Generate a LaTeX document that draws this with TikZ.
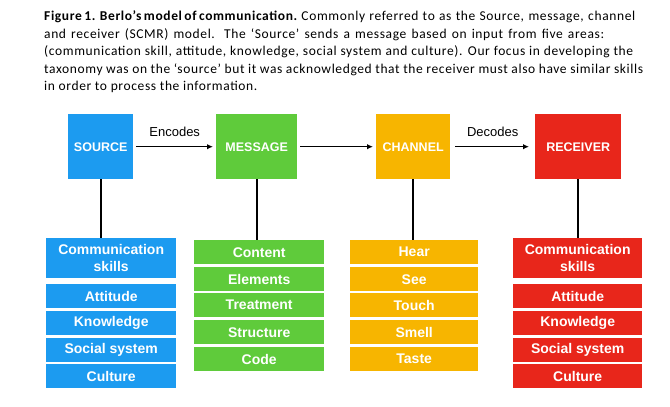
\documentclass[tikz,border=0pt]{standalone}
\usepackage{fontspec}
\setmainfont{Liberation Sans}
\newfontfamily\capfont{Carlito}[LetterSpace=4.6]
\usetikzlibrary{arrows.meta}
\definecolor{cblue}{HTML}{1C9BF0}
\definecolor{cgreen}{HTML}{5FCB3B}
\definecolor{cyellow}{HTML}{F7B500}
\definecolor{cred}{HTML}{E8261B}
\newcommand{\capline}[2]{\makebox[#1pt][s]{#2}}
\tikzset{
  captext/.style={anchor=base west, inner sep=0pt, font=\capfont\fontsize{13.5}{17.5}\selectfont},
  headbox/.style={fill=#1, draw=none, text=white, inner sep=0pt, anchor=north west,
    font=\bfseries\fontsize{12.5}{15}\selectfont},
  itembox/.style={fill=#1, draw=none, text=white, inner sep=0pt, anchor=north west,
    align=center, font=\bfseries\fontsize{14}{17}\selectfont},
  flow/.style={line width=1.3pt, -{Latex[length=6pt,width=5.5pt]}, shorten <=3pt, shorten >=3pt},
  stem/.style={line width=1.6pt},
  lbl/.style={font=\fontsize{13}{15}\selectfont, inner sep=0pt}
}
\begin{document}
\begin{tikzpicture}[x=1pt,y=-1pt]
\useasboundingbox (0,0) rectangle (670,407);
% caption
\node[captext] (c1) at (44,20.8) {\capline{591}{\makebox[253pt][s]{\bfseries Figure 1. Berlo’s model of communication.} Commonly referred to as the Source, message, channel}};
\node[captext] (c2) at (44,38.3) {\capline{560}{and receiver (SCMR) model. The ‘Source’ sends a message based on input from five areas:}};
\node[captext] (c3) at (44,55.8) {\capline{589}{(communication skill, attitude, knowledge, social system and culture). Our focus in developing the}};
\node[captext] (c4) at (44,73.3) {\capline{599}{taxonomy was on the ‘source’ but it was acknowledged that the receiver must also have similar skills}};
\node[captext] (c5) at (44,90.8) {in order to process the information.};
% head boxes
\node[headbox=cblue, minimum width=65, minimum height=65] (src) at (68,114) {SOURCE};
\node[headbox=cgreen, minimum width=81, minimum height=65] (msg) at (216,114) {MESSAGE};
\node[headbox=cyellow, minimum width=74, minimum height=65] (chn) at (376,114) {CHANNEL};
\node[headbox=cred, minimum width=86, minimum height=65] (rcv) at (535,114) {RECEIVER};
% arrows
\draw[flow] (src.east) -- node[lbl, yshift=15pt] (enc) {Encodes} (msg.west);
\draw[flow] (msg.east) -- (chn.west);
\draw[flow, shorten <=5pt, shorten >=6pt] (chn.east) -- node[lbl, yshift=15pt] (dec) {Decodes} (rcv.west);
% source list
\node[itembox=cblue, minimum width=130, minimum height=40] (s1) at (46,238) {Communication\\skills};
\node[itembox=cblue, minimum width=130, minimum height=24] (s2) at (46,284) {Attitude};
\node[itembox=cblue, minimum width=130, minimum height=24] (s3) at (46,311) {Knowledge};
\node[itembox=cblue, minimum width=130, minimum height=24] (s4) at (46,338) {Social system};
\node[itembox=cblue, minimum width=130, minimum height=24] (s5) at (46,364) {Culture};
% message list
\node[itembox=cgreen, minimum width=130, minimum height=24] (m1) at (194,240) {Content};
\node[itembox=cgreen, minimum width=130, minimum height=24] (m2) at (194,267) {Elements};
\node[itembox=cgreen, minimum width=130, minimum height=24] (m3) at (194,293) {Treatment};
\node[itembox=cgreen, minimum width=130, minimum height=24] (m4) at (194,320) {Structure};
\node[itembox=cgreen, minimum width=130, minimum height=24] (m5) at (194,347) {Code};
% channel list
\node[itembox=cyellow, minimum width=128, minimum height=24] (h1) at (350,240) {Hear};
\node[itembox=cyellow, minimum width=128, minimum height=24] (h2) at (350,267) {See};
\node[itembox=cyellow, minimum width=128, minimum height=24] (h3) at (350,293) {Touch};
\node[itembox=cyellow, minimum width=128, minimum height=24] (h4) at (350,320) {Smell};
\node[itembox=cyellow, minimum width=128, minimum height=24] (h5) at (350,347) {Taste};
% receiver list
\node[itembox=cred, minimum width=129, minimum height=40] (r1) at (513,238) {Communication\\skills};
\node[itembox=cred, minimum width=129, minimum height=24] (r2) at (513,284) {Attitude};
\node[itembox=cred, minimum width=129, minimum height=24] (r3) at (513,311) {Knowledge};
\node[itembox=cred, minimum width=129, minimum height=24] (r4) at (513,338) {Social system};
\node[itembox=cred, minimum width=129, minimum height=24] (r5) at (513,364) {Culture};
% stems
\draw[stem] (src.south) -- (src.south |- s1.north);
\draw[stem] (msg.south) -- (msg.south |- m1.north);
\draw[stem] (chn.south) -- (chn.south |- h1.north);
\draw[stem] (rcv.south) -- (rcv.south |- r1.north);
\end{tikzpicture}
\end{document}
